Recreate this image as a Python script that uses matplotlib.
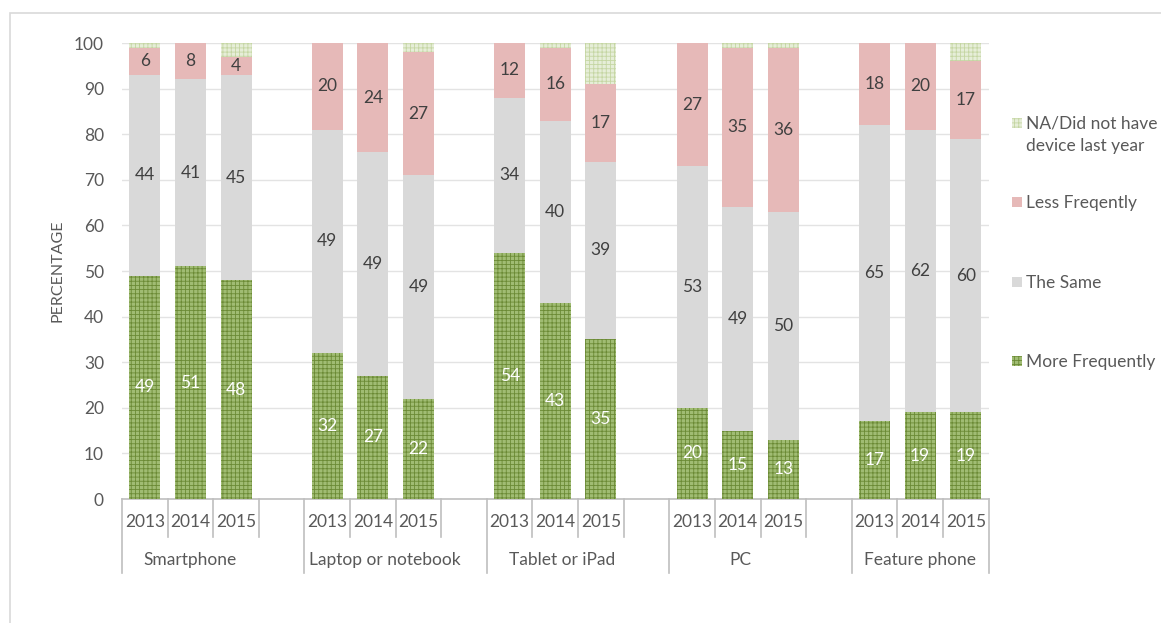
import matplotlib
matplotlib.use("Agg")
import matplotlib.pyplot as plt
from matplotlib.patches import Rectangle
import numpy as np

devices = ["Smartphone", "Laptop or notebook", "Tablet or iPad", "PC", "Feature phone"]
years = ["2013", "2014", "2015"]
more_freq = [49, 51, 48, 32, 27, 22, 54, 43, 35, 20, 15, 13, 17, 19, 19]
the_same = [44, 41, 45, 49, 49, 49, 34, 40, 39, 53, 49, 50, 65, 62, 60]
less_freq = [6, 8, 4, 20, 24, 27, 12, 16, 17, 27, 35, 36, 18, 20, 17]
na_device = [1, 0, 3, 0, 0, 2, 0, 1, 9, 0, 1, 1, 0, 0, 4]
yticks = [0, 10, 20, 30, 40, 50, 60, 70, 80, 90, 100]
group_label_shift = [0.0, 0.26, 0.14, 0.07, 0.0]

plt.rcParams['font.family'] = ['Lato', 'DejaVu Sans']
plt.rcParams['hatch.linewidth'] = 0.6
TXT = '#595959'

fig = plt.figure(figsize=(11.61, 6.23), dpi=100)
W, H = 1161, 623
ax = fig.add_axes([122 / W, 1 - 499 / H, (988.6 - 122) / W, (499 - 43) / H])

# frame around chart
fig.add_artist(Rectangle((10 / W, -0.1), 1.2, 1 - 13 / H + 0.1, transform=fig.transFigure,
                         fill=False, edgecolor='#d9d9d9', linewidth=1.2))

# positions: 3 bars per group, one empty slot between groups
pos = []
for g in range(len(devices)):
    for k in range(len(years)):
        pos.append(g * 4 + k)
pos = np.array(pos, dtype=float)

mf = np.array(more_freq, float)
ts = np.array(the_same, float)
lf = np.array(less_freq, float)
na = np.array(na_device, float)

STY = {
    'mf': dict(color='#a0bc73', edgecolor='#6b8a35', hatch='++++', linewidth=0),
    'ts': dict(color='#d9d9d9', linewidth=0),
    'lf': dict(color='#e6b9b8', linewidth=0),
    'na': dict(color='#e6eed8', edgecolor='#c5d6a3', hatch='++++', linewidth=0),
}

bw = 0.68
ax.bar(pos, mf, bw, zorder=3, **STY['mf'])
ax.bar(pos, ts, bw, bottom=mf, zorder=3, **STY['ts'])
ax.bar(pos, lf, bw, bottom=mf + ts, zorder=3, **STY['lf'])
ax.bar(pos, na, bw, bottom=mf + ts + lf, zorder=3, **STY['na'])

fs = 12.5
for i, x in enumerate(pos):
    ax.text(x, mf[i] / 2, f"{more_freq[i]}", ha='center', va='center', color='white', fontsize=fs, zorder=5)
    ax.text(x, mf[i] + ts[i] / 2, f"{the_same[i]}", ha='center', va='center', color='#404040', fontsize=fs, zorder=5)
    top = min(mf[i] + ts[i] + lf[i], 100)
    ax.text(x, (mf[i] + ts[i] + top) / 2, f"{less_freq[i]}", ha='center', va='center', color='#404040',
            fontsize=fs, zorder=5)

ax.set_xlim(-0.5, 18.5)
ax.set_ylim(0, 100)
ax.set_yticks(yticks)
ax.tick_params(axis='y', length=0, labelsize=12.5, labelcolor=TXT, pad=13)
ax.yaxis.grid(True, color='#e3e3e3', linewidth=1.0, zorder=0)
ax.set_axisbelow(True)
for s in ['left', 'right', 'top']:
    ax.spines[s].set_visible(False)
ax.spines['bottom'].set_color('#bfbfbf')
ax.spines['bottom'].set_linewidth(1.2)
ax.set_xticks([])
ax.set_ylabel('PERCENTAGE', fontsize=11.5, color=TXT, labelpad=7)

# category axis
trans = ax.get_xaxis_transform()
ax_h = 499 - 43
y_short = -(537 - 499) / ax_h
y_long = -(573 - 499) / ax_h
y_year = -(522 - 499) / ax_h
y_dev = -(560 - 499) / ax_h
for g in range(len(devices)):
    for k in range(len(years)):
        ax.text(g * 4 + k, y_year, years[k], transform=trans, ha='center', va='center',
                fontsize=12.5, color=TXT)
    ax.text(g * 4 + 1 + group_label_shift[g], y_dev, devices[g], transform=trans, ha='center',
            va='center', fontsize=12.5, color=TXT)
bounds_long = [-0.5, 3.5, 7.5, 11.5, 15.5, 18.5]
for b in bounds_long:
    ax.plot([b, b], [0, y_long], transform=trans, color='#bfbfbf', lw=1.2, clip_on=False)
for g in range(len(devices)):
    nb = [g * 4 + 0.5, g * 4 + 1.5]
    if g < len(devices) - 1:
        nb.append(g * 4 + 2.5)
    for b in nb:
        ax.plot([b, b], [0, y_short], transform=trans, color='#bfbfbf', lw=1.2, clip_on=False)

# legend (manual, Excel-like spacing)
legend_items = [('na', 'NA/Did not have\ndevice last year', 123),
                ('lf', 'Less Freqently', 202),
                ('ts', 'The Same', 282),
                ('mf', 'More Frequently', 361)]
for key, lab, ypx in legend_items:
    st = dict(STY[key])
    fc = st.pop('color')
    fig.add_artist(Rectangle((1012 / W, 1 - (ypx + 5) / H), 10 / W, 10 / H, transform=fig.transFigure,
                             facecolor=fc, **st))
    fig.text(1026 / W, 1 - (ypx - 7) / H, lab, ha='left', va='top', fontsize=12.5, color=TXT,
             linespacing=1.5)

fig.savefig('out.png', dpi=100)
